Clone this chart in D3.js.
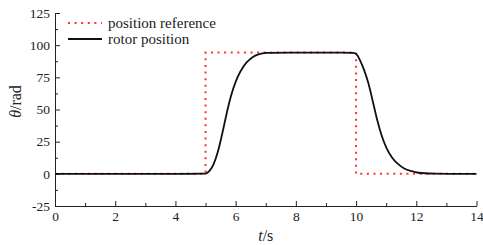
<!DOCTYPE html>
<html>
<head>
<meta charset="utf-8">
<script src="https://cdn.jsdelivr.net/npm/d3@7"></script>
<style>
  body { margin: 0; background: #fff; }
</style>
</head>
<body>
<svg width="483" height="245"></svg>
<script>
// position reference (step input)
var refT = [0, 5, 5, 10, 10, 14];
var refV = [0, 0, 94.25, 94.25, 0, 0];

// rotor position
var rotorT = [0, 4.9, 5.0, 5.05, 5.15, 5.26, 5.4, 5.55, 5.7, 5.85, 6.0, 6.15, 6.35, 6.55, 6.75, 7.0, 7.5,
              9.9, 10.0, 10.13, 10.25, 10.4, 10.55, 10.7, 10.85, 11.0, 11.2, 11.4, 11.6, 11.8, 12.05, 12.4, 14];
var rotorV = [0, 0, 0, 0.6, 2.6, 6.5, 15.5, 30.5, 47, 61.5, 72, 79.6, 86.7, 90.8, 93.1, 94.1, 94.25,
              94.25, 94.0, 88.6, 82, 72, 57, 41.5, 29.3, 20, 12, 7.3, 3.8, 2.2, 0.7, 0, 0];

var xTicks = [0, 2, 4, 6, 8, 10, 12, 14];
var xMinor = [1, 3, 5, 7, 9, 11, 13];
var yTicks = [-25, 0, 25, 50, 75, 100, 125];
var yMinor = [-12.5, 12.5, 37.5, 62.5, 87.5, 112.5];

var legendNames = ["position reference", "rotor position"];

var svg = d3.select("svg");
var x = d3.scaleLinear().domain([0, 14]).range([55, 476.5]);
var y = d3.scaleLinear().domain([-25, 125]).range([206, 13]);

var ink = "#222";
var serif = "'Liberation Serif'";

// minor ticks first
svg.append("g")
	.attr("transform", "translate(0,206)")
	.call(d3.axisBottom(x).tickValues(xMinor).tickFormat("").tickSizeInner(-3).tickSizeOuter(0))
	.call(function(g) { g.select(".domain").remove(); })
	.selectAll("line").attr("stroke", ink);

svg.append("g")
	.attr("transform", "translate(55,0)")
	.call(d3.axisLeft(y).tickValues(yMinor).tickFormat("").tickSizeInner(-3).tickSizeOuter(0))
	.call(function(g) { g.select(".domain").remove(); })
	.selectAll("line").attr("stroke", ink);

// main axes
var xAxis = svg.append("g")
	.attr("transform", "translate(0,206)")
	.call(d3.axisBottom(x).tickValues(xTicks).tickFormat(function(d) { return String(d); })
		.tickSizeInner(-5).tickSizeOuter(0).tickPadding(5));

var yAxis = svg.append("g")
	.attr("transform", "translate(55,0)")
	.call(d3.axisLeft(y).tickValues(yTicks).tickFormat(function(d) { return String(d); })
		.tickSizeInner(-5).tickSizeOuter(0).tickPadding(5));

[xAxis, yAxis].forEach(function(g) {
	g.attr("font-family", null);
	g.selectAll("path, line").attr("stroke", ink).attr("stroke-width", 1);
	g.selectAll("text")
		.attr("fill", ink)
		.style("font-family", serif)
		.style("font-size", "13.5px");
});

// series
var refData = refT.map(function(t, i) { return [t, refV[i]]; });
var rotorData = rotorT.map(function(t, i) { return [t, rotorV[i]]; });

svg.append("path")
	.datum(refData)
	.attr("fill", "none")
	.attr("stroke", "#ff3030")
	.attr("stroke-width", 2)
	.attr("stroke-dasharray", "2,4.6")
	.attr("d", d3.line().x(function(d) { return x(d[0]); }).y(function(d) { return y(d[1]); }));

svg.append("path")
	.datum(rotorData)
	.attr("fill", "none")
	.attr("stroke", "#111")
	.attr("stroke-width", 1.8)
	.attr("d", d3.line()
		.curve(d3.curveBasis)
		.x(function(d) { return x(d[0]); })
		.y(function(d) { return y(d[1]); }));

// legend
var legend = svg.append("g");
legend.append("line")
	.attr("x1", 68).attr("x2", 102).attr("y1", 23).attr("y2", 23)
	.attr("stroke", "#ff3030").attr("stroke-width", 2).attr("stroke-dasharray", "2,4.6");
legend.append("line")
	.attr("x1", 68).attr("x2", 102).attr("y1", 39).attr("y2", 39)
	.attr("stroke", "#111").attr("stroke-width", 1.8);
legend.selectAll("text")
	.data(legendNames)
	.enter().append("text")
		.attr("x", 108)
		.attr("y", function(d, i) { return 27.5 + i * 16; })
		.attr("fill", ink)
		.style("font-family", serif)
		.style("font-size", "15px")
		.text(function(d) { return d; });

// axis titles
var xt = svg.append("text")
	.attr("x", x(7)).attr("y", 241)
	.attr("text-anchor", "middle")
	.attr("fill", ink)
	.style("font-family", serif)
	.style("font-size", "16px");
xt.append("tspan").style("font-style", "italic").text("t");
xt.append("tspan").text("/s");

var yt = svg.append("text")
	.attr("transform", "translate(21,101.5) rotate(-90)")
	.attr("text-anchor", "middle")
	.attr("fill", ink)
	.style("font-family", serif)
	.style("font-size", "16px");
yt.append("tspan").style("font-style", "italic").text("θ");
yt.append("tspan").text("/rad");
</script>
</body>
</html>
